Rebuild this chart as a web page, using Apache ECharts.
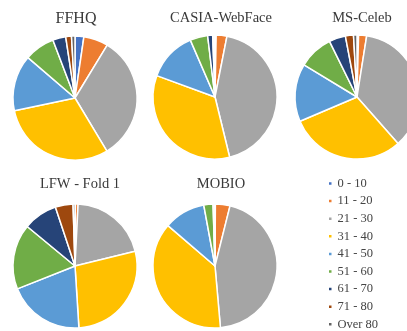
<!DOCTYPE html>
<html>
<head>
<meta charset="utf-8">
<script src="https://cdn.jsdelivr.net/npm/echarts@6/dist/echarts.min.js"></script>
<style>
  html, body { margin: 0; padding: 0; background: #fff; }
  #chart { width: 407px; height: 331px; }
</style>
</head>
<body>
<div id="chart"></div>
<script>
// age groups (legend order)
const ageGroups = ['0 - 10', '11 - 20', '21 - 30', '31 - 40', '41 - 50', '51 - 60', '61 - 70', '71 - 80', 'Over 80'];
const groupColors = ['#4472C4', '#ED7D31', '#A5A5A5', '#FFC000', '#5B9BD5', '#70AD47', '#264478', '#9E480E', '#636363'];

// percentage share per dataset
const ffhqValues   = [2.3, 6.4, 32.7, 30.3, 14.6, 7.9, 3.4, 1.5, 0.9];
const casiaValues  = [0.3, 2.8, 43.1, 34.4, 12.9, 4.6, 1.3, 0.3, 0.3];
const msCelebValues = [0.4, 2.1, 36.0, 30.1, 15.1, 9.0, 4.3, 2.1, 0.9];
const lfwValues    = [0.1, 0.7, 20.4, 27.8, 20.0, 17.0, 8.9, 4.6, 0.5];
const mobioValues  = [0.1, 3.8, 44.7, 37.7, 10.8, 2.4, 0.2, 0.2, 0.1];

const datasetNames = ['FFHQ', 'CASIA-WebFace', 'MS-Celeb', 'LFW - Fold 1', 'MOBIO'];
const datasetValues = [ffhqValues, casiaValues, msCelebValues, lfwValues, mobioValues];

// layout of each small pie: [centerX, centerY], plus title anchor
const pieCenters = [[75, 98], [215, 97], [357, 97], [75, 266], [215, 266]];
const titlePos = [[71, 6], [216, 6], [357, 6], [75, 172], [216, 172]];
const pieRadius = 62;

const serif = '"Liberation Serif", "DejaVu Serif", serif';

const chart = echarts.init(document.getElementById('chart'), null, { renderer: 'canvas' });

const titles = datasetNames.map((name, i) => ({
  text: name,
  left: titlePos[i][0],
  top: titlePos[i][1],
  textAlign: 'center',
  textStyle: {
    fontFamily: serif,
    fontSize: i === 0 ? 16 : 14.5,
    fontWeight: 'normal',
    color: '#3a3a3a'
  }
}));

const series = datasetValues.map((vals, i) => ({
  name: datasetNames[i],
  type: 'pie',
  center: pieCenters[i],
  radius: pieRadius,
  startAngle: 90,
  clockwise: true,
  label: { show: false },
  labelLine: { show: false },
  emphasis: { disabled: true },
  animation: false,
  itemStyle: { borderColor: '#ffffff', borderWidth: 1.5 },
  data: ageGroups.map((g, k) => ({ name: g, value: vals[k] }))
}));

const option = {
  backgroundColor: '#ffffff',
  color: groupColors,
  title: titles,
  legend: {
    orient: 'vertical',
    left: 327,
    top: 177,
    height: 220,
    padding: 0,
    icon: 'rect',
    itemWidth: 4.5,
    itemHeight: 4.5,
    itemGap: 4.6,
    textStyle: { fontFamily: serif, fontSize: 12.5, color: '#444' },
    data: ageGroups
  },
  series: series
};

chart.setOption(option);
</script>
</body>
</html>
